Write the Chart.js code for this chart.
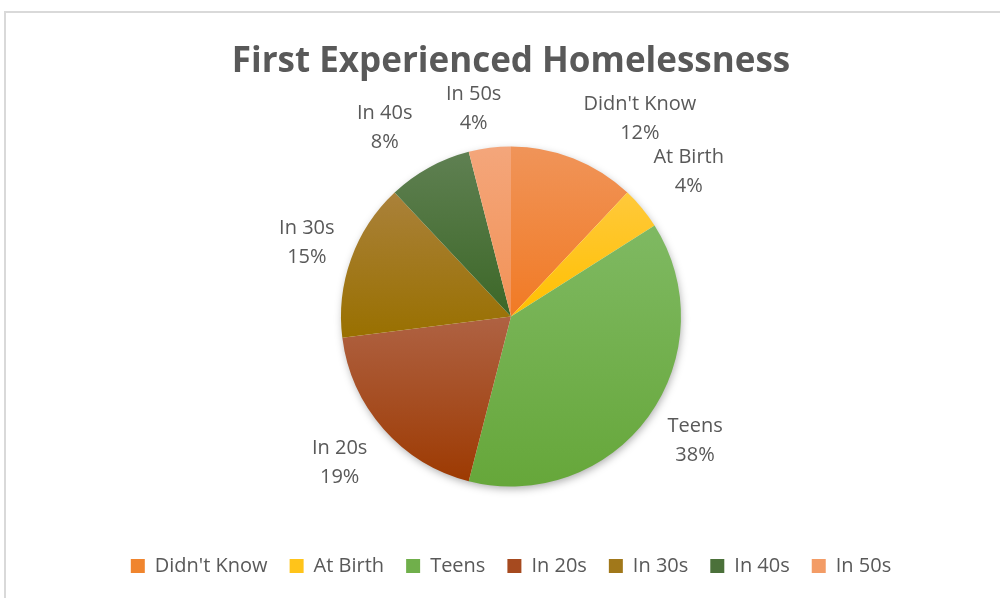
<!DOCTYPE html>
<html>
<head>
<meta charset="utf-8">
<title>First Experienced Homelessness</title>
<script src="https://cdn.jsdelivr.net/npm/chart.js@4"></script>
<style>
  html, body { margin: 0; padding: 0; background: #ffffff; width: 1000px; height: 598px; overflow: hidden; }
  #frame { position: absolute; left: 4px; top: 11px; width: 1100px; height: 700px; border: 2px solid #D9D9D9; box-sizing: border-box; }
  #wrap { position: absolute; left: 5px; top: 12px; width: 1012px; height: 586px; }
  canvas { display: block; }
</style>
</head>
<body>
<div id="frame"></div>
<div id="wrap"><canvas id="chart" width="1012" height="586"></canvas></div>
<script>
// Age at which respondents first experienced homelessness (percent of respondents)
const categories = ["Didn't Know", "At Birth", "Teens", "In 20s", "In 30s", "In 40s", "In 50s"];
const percentages = [12, 4, 38, 19, 15, 8, 4];

// Slice colours: light tint at the top of each slice, full colour at the bottom
const topColors    = ['#F09459', '#FFC93B', '#7FB962', '#AF6243', '#AA813A', '#5F8052', '#F4A67B'];
const bottomColors = ['#F17A24', '#FFC000', '#66A73A', '#9D3A02', '#997000', '#3C6727', '#F29256'];
const legendColors = ['#F0852E', '#FFC41A', '#70AF4B', '#A64A1F', '#A1781A', '#4B713A', '#F39C66'];

const PIE_RADIUS = 170;
const TEXT_COLOR = '#595959';
const FONT_FAMILY = "'Open Sans', 'DejaVu Sans', sans-serif";

// Outside data labels: angle (degrees) and radial nudges keep the labels clear of each other
const labelNudges = [
  { angle: 11.5, radius: 11 },
  { angle: 0.5, radius: 4 },
  { angle: -2, radius: -3 },
  { angle: 1, radius: 0 },
  { angle: 0, radius: -8 },
  { angle: -5, radius: 2 },
  { angle: -3, radius: -14 }
];

function sliceGradient(c) {
  const chart = c.chart;
  const area = chart.chartArea;
  const i = c.dataIndex;
  if (!area) return bottomColors[i];
  const total = percentages.reduce((a, b) => a + b, 0);
  let before = 0;
  for (let k = 0; k < i; k++) before += percentages[k];
  const a0 = -Math.PI / 2 + 2 * Math.PI * before / total;
  const a1 = a0 + 2 * Math.PI * percentages[i] / total;
  const cx = (area.left + area.right) / 2;
  const cy = (area.top + area.bottom) / 2;
  const r = Math.min(PIE_RADIUS, (area.bottom - area.top) / 2, (area.right - area.left) / 2);
  const ys = [cy, cy + Math.sin(a0) * r, cy + Math.sin(a1) * r];
  // include the top / bottom extremes of the circle when the slice passes them
  [-Math.PI / 2, Math.PI / 2, 3 * Math.PI / 2].forEach(a => {
    if (a > a0 && a < a1) ys.push(cy + Math.sin(a) * r);
  });
  const minY = Math.min(...ys), maxY = Math.max(...ys);
  const g = chart.ctx.createLinearGradient(0, minY, 0, maxY + 0.01);
  g.addColorStop(0, topColors[i]);
  g.addColorStop(1, bottomColors[i]);
  return g;
}

// Soft drop shadow beneath the pie
const pieShadow = {
  id: 'pieShadow',
  beforeDatasetsDraw(chart) {
    const arc = chart.getDatasetMeta(0).data[0];
    if (!arc) return;
    const ctx = chart.ctx;
    ctx.save();
    ctx.beginPath();
    ctx.arc(arc.x, arc.y, arc.outerRadius - 1, 0, Math.PI * 2);
    ctx.shadowColor = 'rgba(0,0,0,0.35)';
    ctx.shadowBlur = 9;
    ctx.shadowOffsetX = 1;
    ctx.shadowOffsetY = 3;
    ctx.fillStyle = '#ffffff';
    ctx.fill();
    ctx.restore();
  }
};

// Category name and percentage drawn outside each slice
const outsideLabels = {
  id: 'outsideLabels',
  afterDatasetsDraw(chart) {
    const ctx = chart.ctx;
    const meta = chart.getDatasetMeta(0);
    const values = chart.data.datasets[0].data;
    const total = values.reduce((a, b) => a + b, 0);
    ctx.save();
    ctx.font = "20px " + FONT_FAMILY;
    ctx.fillStyle = TEXT_COLOR;
    ctx.textAlign = 'center';
    ctx.textBaseline = 'middle';
    meta.data.forEach((arc, i) => {
      const nudge = labelNudges[i] || { angle: 0, radius: 0 };
      const mid = (arc.startAngle + arc.endAngle) / 2 + nudge.angle * Math.PI / 180;
      const dist = arc.outerRadius + 55 + nudge.radius;
      const x = arc.x + Math.cos(mid) * dist;
      const y = arc.y + Math.sin(mid) * dist;
      const pct = Math.round(values[i] / total * 100) + '%';
      ctx.fillText(chart.data.labels[i], x, y - 14.5);
      ctx.fillText(pct, x, y + 14.5);
    });
    ctx.restore();
  }
};

new Chart(document.getElementById('chart'), {
  type: 'pie',
  data: {
    labels: categories,
    datasets: [{
      data: percentages,
      backgroundColor: sliceGradient,
      borderWidth: 0
    }]
  },
  plugins: [pieShadow, outsideLabels],
  options: {
    responsive: false,
    animation: false,
    events: [],
    devicePixelRatio: 1,
    radius: PIE_RADIUS,
    layout: { padding: { top: 0, bottom: 12, left: 0, right: 0 } },
    plugins: {
      title: {
        display: true,
        text: 'First Experienced Homelessness',
        color: TEXT_COLOR,
        font: { family: FONT_FAMILY, size: 35, weight: 'bold' },
        padding: { top: 29, bottom: 16 }
      },
      legend: {
        position: 'bottom',
        labels: {
          color: TEXT_COLOR,
          font: { family: FONT_FAMILY, size: 20 },
          boxWidth: 14,
          boxHeight: 14,
          padding: 22,
          generateLabels(chart) {
            return chart.data.labels.map((label, i) => ({
              text: label,
              fillStyle: legendColors[i],
              strokeStyle: legendColors[i],
              lineWidth: 0,
              fontColor: TEXT_COLOR,
              index: i,
              hidden: false
            }));
          }
        }
      },
      tooltip: { enabled: false }
    }
  }
});
</script>
</body>
</html>
